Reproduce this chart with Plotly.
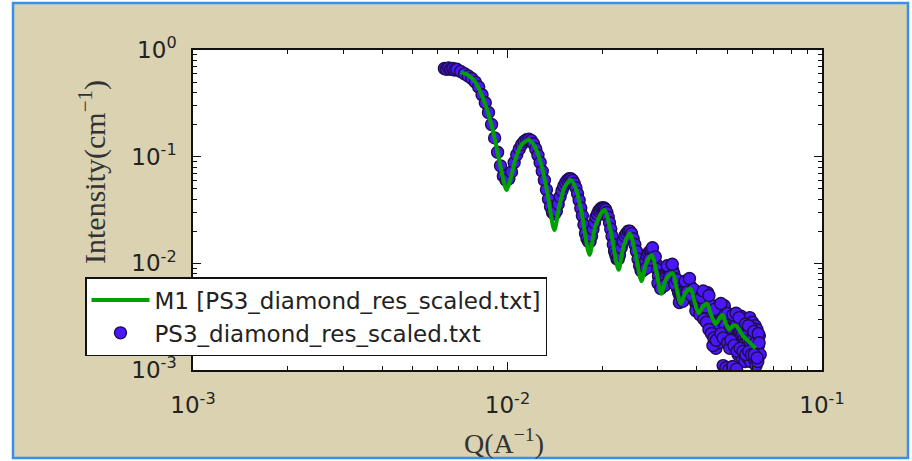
import plotly.graph_objects as go

# Measured scattering data: Q (1/Angstrom) and intensity (1/cm)
q_data = [
    0.0063, 0.0064, 0.0065, 0.0066, 0.0067, 0.0068, 0.0069, 0.0071, 0.0073, 0.0075,
    0.0077, 0.0079, 0.0081, 0.0083, 0.0085, 0.0087, 0.0089, 0.0091, 0.0093, 0.0095,
    0.0097, 0.0099,
    0.0101, 0.0103, 0.0105, 0.0107, 0.0109, 0.0111, 0.0113, 0.0115, 0.0117, 0.0119,
    0.0121, 0.0123, 0.0125, 0.0127, 0.0129, 0.0131, 0.0133, 0.0135, 0.0137, 0.0139,
    0.0141,
    0.0143, 0.0145, 0.0147, 0.0149, 0.0151, 0.0153, 0.0155, 0.0157, 0.0159, 0.0161,
    0.0163, 0.0165, 0.0167, 0.0169, 0.0171, 0.0173, 0.0175, 0.0177, 0.0179, 0.0181,
    0.0183,
    0.0185, 0.0187, 0.0189, 0.0191, 0.0193, 0.0195, 0.0197, 0.0199, 0.0201, 0.0203,
    0.0205, 0.0207, 0.0209, 0.0211, 0.0213, 0.0215, 0.0217, 0.0219, 0.0221, 0.0223,
    0.0225,
    0.0227, 0.0230, 0.0233, 0.0236, 0.0239, 0.0242, 0.0245, 0.0248, 0.0251, 0.0254,
    0.0257, 0.0260, 0.0263, 0.0266, 0.0269,
    0.0272, 0.0275, 0.0278, 0.0281, 0.0284, 0.0287, 0.0290, 0.0293, 0.0296, 0.0299,
    0.0302, 0.0305, 0.0308, 0.0276, 0.0283, 0.0289, 0.0295, 0.0301, 0.0307,
    0.0311, 0.0314, 0.0317, 0.0320, 0.0323, 0.0326, 0.0329, 0.0332, 0.0335, 0.0338,
    0.0341, 0.0344, 0.0347, 0.0350, 0.0353, 0.0356, 0.0316, 0.0322, 0.0328, 0.0334,
    0.0340, 0.0346, 0.0352, 0.0355,
    0.0359, 0.0362, 0.0365, 0.0368, 0.0371, 0.0374, 0.0377, 0.0380, 0.0383, 0.0386,
    0.0389, 0.0392, 0.0395, 0.0398, 0.0401, 0.0404, 0.0361, 0.0367, 0.0373, 0.0379,
    0.0385, 0.0391, 0.0397, 0.0403,
    0.0407, 0.0411, 0.0415, 0.0419, 0.0423, 0.0427, 0.0431, 0.0435, 0.0439, 0.0443,
    0.0447, 0.0451, 0.0455, 0.0459, 0.0409, 0.0417, 0.0425, 0.0433, 0.0441, 0.0449,
    0.0457, 0.0413,
    0.0463, 0.0467, 0.0471, 0.0475, 0.0479, 0.0483, 0.0487, 0.0491, 0.0495, 0.0499,
    0.0503, 0.0507, 0.0465, 0.0473, 0.0481, 0.0489, 0.0497, 0.0505, 0.0469, 0.0493,
    0.0511, 0.0515, 0.0519, 0.0523, 0.0527, 0.0531, 0.0535, 0.0539, 0.0543, 0.0547,
    0.0551, 0.0555, 0.0559, 0.0563, 0.0567, 0.0571, 0.0575, 0.0579, 0.0583, 0.0587,
    0.0591, 0.0595, 0.0599, 0.0603, 0.0607, 0.0611, 0.0615, 0.0619, 0.0623, 0.0628,
    0.0553, 0.0565, 0.0577, 0.0589, 0.0601, 0.0613, 0.0621, 0.0595, 0.0632,
    0.0517, 0.0529, 0.0541, 0.0557, 0.0569, 0.0581, 0.0593, 0.0605, 0.0617, 0.0625,
    0.0485, 0.0495, 0.0505, 0.0520, 0.0535, 0.0460, 0.0470, 0.0450, 0.0636,
    0.0421, 0.0429, 0.0437, 0.0445, 0.0453, 0.0461, 0.0477, 0.0485, 0.0501, 0.0509,
    0.0513, 0.0525, 0.0537, 0.0549, 0.0561, 0.0573, 0.0585, 0.0597, 0.0609, 0.0622,
    0.0419, 0.0437, 0.0455, 0.0477, 0.0501, 0.0521, 0.0533, 0.0545, 0.0571, 0.0583,
    0.0607, 0.0627, 0.0631,
]
i_data = [
    0.67, 0.66, 0.68, 0.66, 0.67, 0.65, 0.66, 0.63, 0.60, 0.57,
    0.54, 0.50, 0.45, 0.38, 0.32, 0.26, 0.20, 0.15, 0.11, 0.082,
    0.066, 0.060,
    0.062, 0.072, 0.088, 0.104, 0.118, 0.130, 0.139, 0.144, 0.146, 0.142,
    0.132, 0.118, 0.103, 0.088, 0.073, 0.060, 0.049, 0.040, 0.034, 0.030,
    0.029,
    0.031, 0.036, 0.042, 0.048, 0.053, 0.057, 0.060, 0.062, 0.062, 0.060,
    0.056, 0.051, 0.045, 0.039, 0.033, 0.028, 0.023, 0.019, 0.017, 0.016,
    0.016,
    0.018, 0.021, 0.024, 0.027, 0.029, 0.031, 0.032, 0.033, 0.033, 0.033,
    0.032, 0.030, 0.027, 0.024, 0.021, 0.018, 0.015, 0.013, 0.012, 0.011,
    0.011,
    0.012, 0.014, 0.016, 0.018, 0.019, 0.020, 0.020, 0.019, 0.017, 0.015,
    0.013, 0.011, 0.0095, 0.0085, 0.0085,
    0.0095, 0.0105, 0.0118, 0.0125, 0.0130, 0.0128, 0.0122, 0.0112, 0.0100, 0.0088,
    0.0076, 0.0068, 0.0064, 0.0090, 0.0108, 0.0140, 0.0115, 0.0065, 0.0058,
    0.0066, 0.0072, 0.0078, 0.0082, 0.0086, 0.0088, 0.0090, 0.0088, 0.0086, 0.0080,
    0.0072, 0.0066, 0.0058, 0.0053, 0.0050, 0.0048, 0.0062, 0.0095, 0.0075, 0.0098,
    0.0064, 0.0070, 0.0043, 0.0058,
    0.0050, 0.0054, 0.0057, 0.0060, 0.0062, 0.0064, 0.0063, 0.0062, 0.0060, 0.0057,
    0.0052, 0.0048, 0.0044, 0.0041, 0.0039, 0.0038, 0.0044, 0.0068, 0.0054, 0.0072,
    0.0050, 0.0057, 0.0036, 0.0045,
    0.0039, 0.0041, 0.0043, 0.0045, 0.0046, 0.0046, 0.0045, 0.0043, 0.0040, 0.0037,
    0.0034, 0.0032, 0.0030, 0.0029, 0.0033, 0.0052, 0.0039, 0.0053, 0.0031, 0.0040,
    0.0025, 0.0048,
    0.0030, 0.0032, 0.0034, 0.0035, 0.0035, 0.0035, 0.0034, 0.0032, 0.0030, 0.0028,
    0.0026, 0.0025, 0.0025, 0.0041, 0.0029, 0.0040, 0.0024, 0.0031, 0.0038, 0.0026,
    0.0025, 0.0027, 0.0028, 0.0027, 0.0029, 0.0026, 0.0027, 0.0024, 0.0025, 0.0022,
    0.0023, 0.0021, 0.0022, 0.0019, 0.0020, 0.0018, 0.0021, 0.0017, 0.0019, 0.0016,
    0.0018, 0.0015, 0.0019, 0.0016, 0.0017, 0.0015, 0.0018, 0.0016, 0.0014, 0.0017,
    0.0032, 0.0030, 0.0029, 0.0031, 0.0028, 0.0026, 0.0024, 0.0025, 0.0021,
    0.0018, 0.0016, 0.0014, 0.0013, 0.0012, 0.0013, 0.0012, 0.0013, 0.0011, 0.0012,
    0.0011, 0.00105, 0.0010, 0.00108, 0.00102, 0.0016, 0.0018, 0.0017, 0.0014,
    0.0030, 0.0028, 0.0024, 0.0022, 0.0020, 0.0019, 0.0022, 0.0020, 0.0018, 0.0016,
    0.0019, 0.0017, 0.0015, 0.0016, 0.0015, 0.0014, 0.0015, 0.0014, 0.0014, 0.0013,
    0.0055, 0.0050, 0.0037, 0.0042, 0.0034, 0.0033, 0.0034, 0.0031, 0.0027, 0.0026,
    0.0023, 0.0022, 0.0018,
]

# Fitted model curve M1
q_model = [
    0.00710, 0.00750, 0.00790, 0.00815, 0.00850, 0.00893, 0.00930, 0.00960, 0.00993,
    0.01020, 0.01060, 0.01110, 0.01167, 0.01220, 0.01280, 0.01340, 0.01409,
    0.01460, 0.01520, 0.01589, 0.01650, 0.01720, 0.01823,
    0.01900, 0.02030, 0.02130, 0.02255,
    0.02340, 0.02448, 0.02550, 0.02667,
    0.02760, 0.02876, 0.02970, 0.03083,
    0.03200, 0.03350, 0.03450, 0.03556,
    0.03680, 0.03819, 0.03920, 0.04055,
    0.04170, 0.04305, 0.04420, 0.04581,
    0.04700, 0.04819, 0.04950, 0.05082,
    0.05200, 0.05333, 0.05600, 0.05900, 0.06150,
]
i_model = [
    0.62, 0.58, 0.50, 0.42, 0.31, 0.19, 0.11, 0.070, 0.0487,
    0.060, 0.095, 0.130, 0.143, 0.125, 0.085, 0.045, 0.0205,
    0.034, 0.052, 0.0604, 0.050, 0.030, 0.0120,
    0.022, 0.0316, 0.020, 0.0087,
    0.0145, 0.0190, 0.0125, 0.0068,
    0.0100, 0.0120, 0.0085, 0.0052,
    0.0072, 0.0081, 0.0058, 0.0042,
    0.0053, 0.0058, 0.0045, 0.0034,
    0.0039, 0.0042, 0.0034, 0.0027,
    0.0030, 0.0033, 0.0027, 0.0024,
    0.0026, 0.0026, 0.0021, 0.0018, 0.0016,
]

x_tickvals = [1e-3, 1e-2, 1e-1]
x_ticktext = ["10<sup>-3</sup>", "10<sup>-2</sup>", "10<sup>-1</sup>"]
y_tickvals = [1e-3, 1e-2, 1e-1, 1e0]
y_ticktext = ["10<sup>-3</sup>", "10<sup>-2</sup>", "10<sup>-1</sup>", "10<sup>0</sup>"]

data_name = "PS3_diamond_res_scaled.txt"
model_name = "M1 [PS3_diamond_res_scaled.txt]"

W, H = 912, 461
L, R, T, B = 193, 822, 50, 370


def px(xp):
    return (xp - L) / (R - L)


def py(yp):
    return (B - yp) / (B - T)


def minor_vals(lo, hi):
    vals = []
    for e in range(lo, hi):
        for m in range(2, 10):
            vals.append(m * 10.0 ** e)
    return vals


fig = go.Figure()
fig.add_trace(go.Scatter(
    x=q_data, y=i_data, mode="markers", name=data_name,
    marker=dict(size=12, color="#4a18f8", line=dict(color="#1e0c50", width=1.4)),
))
fig.add_trace(go.Scatter(
    x=q_model, y=i_model, mode="lines", name=model_name,
    line=dict(color="#00a000", width=4, shape="spline", smoothing=0.8),
))

tick_font = dict(family="DejaVu Sans", size=23, color="#222222")
axis_common = dict(
    type="log", showgrid=False, zeroline=False,
    showline=True, linecolor="#111111", linewidth=1.5, mirror="allticks",
    ticks="inside", ticklen=8, tickwidth=1, tickcolor="#111111",
    tickmode="array", tickfont=tick_font,
)

fig.update_xaxes(
    **axis_common, range=[-3, -1], tickvals=x_tickvals, ticktext=x_ticktext,
    ticklabelstandoff=14,
    minor=dict(ticks="inside", ticklen=4, tickwidth=1, tickcolor="#111111",
               tickmode="array", tickvals=minor_vals(-3, -1), showgrid=False),
)
fig.update_yaxes(
    **axis_common, range=[-3, 0], tickvals=y_tickvals, ticktext=y_ticktext,
    ticklabelstandoff=10,
    minor=dict(ticks="inside", ticklen=4, tickwidth=1, tickcolor="#111111",
               tickmode="array", tickvals=minor_vals(-3, 0), showgrid=False),
)

fig.update_layout(
    width=W, height=H, autosize=False,
    margin=dict(l=L, r=W - R, t=T, b=H - B, pad=0),
    paper_bgcolor="white", plot_bgcolor="white",
    showlegend=True,
    legend=dict(
        x=px(85), y=py(277), xanchor="left", yanchor="top",
        bgcolor="white", bordercolor="#111111", borderwidth=1.5,
        font=dict(family="DejaVu Sans", size=23, color="#222222"),
        traceorder="reversed", itemwidth=58,
    ),
    shapes=[
        # tan panel with blue frame
        dict(type="rect", xref="paper", yref="paper", layer="below",
             x0=px(13), x1=px(908), y0=py(458), y1=py(3),
             fillcolor="#dad2b1", line=dict(color="#3790ea", width=2.5)),
        # white plotting area
        dict(type="rect", xref="paper", yref="paper", layer="below",
             x0=0, x1=1, y0=0, y1=1, fillcolor="white", line=dict(width=0)),
    ],
    annotations=[
        dict(text="Intensity(cm<sup>\u22121</sup>)", xref="paper", yref="paper",
             x=px(92), y=py(172), textangle=-90, showarrow=False,
             xanchor="center", yanchor="middle",
             font=dict(family="Liberation Serif", size=30, color="#333333")),
        dict(text="Q(A<sup>\u22121</sup>)", xref="paper", yref="paper",
             x=px(504), y=py(441), showarrow=False,
             xanchor="center", yanchor="middle",
             font=dict(family="Liberation Serif", size=28, color="#333333")),
    ],
)

fig.write_html("out.html")
